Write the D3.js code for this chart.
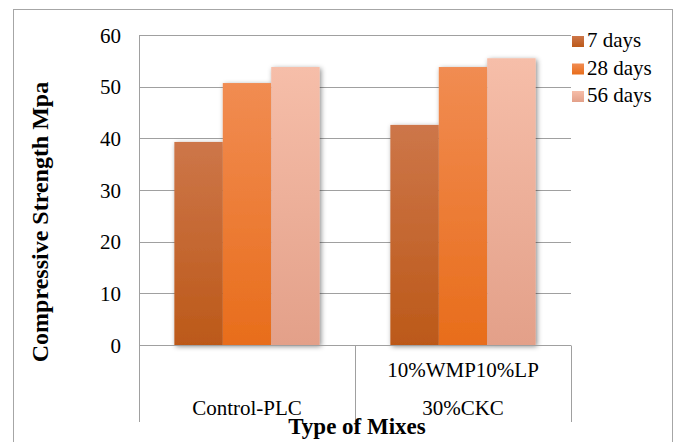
<!DOCTYPE html>
<html>
<head>
<meta charset="utf-8">
<script src="https://cdn.jsdelivr.net/npm/d3@7"></script>
</head>
<body style="margin:0;background:#fff">
<div id="chart"></div>
<script>
var categories = ["Control-PLC", "10%WMP10%LP|30%CKC"];
var series = ["7 days", "28 days", "56 days"];
var values7 = [39.3, 42.6];
var values28 = [50.7, 53.8];
var values56 = [53.8, 55.5];
var yTicks = [0, 10, 20, 30, 40, 50, 60];

var width = 676, height = 442;
var plot = {left: 139, right: 571, top: 35, bottom: 345};
var FONT = "'Liberation Serif'";

// colour stops per series: top, bottom
var colors = [["#cd7649", "#bc5919"], ["#f18c52", "#e86d1b"], ["#f6bea9", "#e3a089"]];

var svg = d3.select("#chart").append("svg")
  .attr("width", width)
  .attr("height", height);

var defs = svg.append("defs");
colors.forEach(function(c, i) {
  var grad = defs.append("linearGradient")
    .attr("id", "grad" + i)
    .attr("x1", 0).attr("y1", 0).attr("x2", 0).attr("y2", 1);
  grad.append("stop").attr("offset", "0%").attr("stop-color", c[0]);
  grad.append("stop").attr("offset", "100%").attr("stop-color", c[1]);
});
var filter = defs.append("filter")
  .attr("id", "shadow")
  .attr("x", "-20%").attr("y", "-20%")
  .attr("width", "140%").attr("height", "140%");
filter.append("feDropShadow")
  .attr("dx", 1.5).attr("dy", 1.5)
  .attr("stdDeviation", 2.5)
  .attr("flood-color", "#000")
  .attr("flood-opacity", 0.45);

// outer chart border
svg.append("rect")
  .attr("x", 13.5).attr("y", 9.5)
  .attr("width", 659).attr("height", 460)
  .attr("fill", "none")
  .attr("stroke", "#a6a6a6");

var x0 = d3.scaleBand()
  .domain(categories)
  .range([plot.left, plot.right])
  .paddingInner(0).paddingOuter(0);

var x1 = d3.scaleBand()
  .domain(series)
  .range([0, x0.bandwidth()])
  .paddingInner(0).paddingOuter(0.73);

var y = d3.scaleLinear()
  .domain([0, 60])
  .range([plot.bottom, plot.top]);

// gridlines
svg.append("g")
  .selectAll("line")
  .data(yTicks)
  .enter().append("line")
  .attr("x1", plot.left)
  .attr("x2", plot.right)
  .attr("y1", function(d) { return Math.round(y(d)) + 0.5; })
  .attr("y2", function(d) { return Math.round(y(d)) + 0.5; })
  .attr("stroke", "#a0a0a0");

// y axis labels
svg.append("g")
  .selectAll("text")
  .data(yTicks)
  .enter().append("text")
  .attr("x", 121)
  .attr("y", function(d) { return y(d); })
  .attr("dy", "0.36em")
  .attr("text-anchor", "end")
  .style("font-family", FONT)
  .style("font-size", "21px")
  .text(function(d) { return d; });

// bars
var table = categories.map(function(c, i) {
  return {cat: c, vals: [values7[i], values28[i], values56[i]]};
});

var groups = svg.append("g")
  .selectAll("g")
  .data(table)
  .enter().append("g")
  .attr("transform", function(d) { return "translate(" + x0(d.cat) + ",0)"; })
  .style("filter", "url(#shadow)");

groups.selectAll("rect")
  .data(function(d) { return d.vals.map(function(v, j) { return {s: series[j], v: v, j: j}; }); })
  .enter().append("rect")
  .attr("x", function(d) { return x1(d.s); })
  .attr("width", x1.bandwidth())
  .attr("y", function(d) { return y(d.v); })
  .attr("height", function(d) { return y(0) - y(d.v); })
  .attr("fill", function(d) { return "url(#grad" + d.j + ")"; });

// axis line + category dividers
var axisY = Math.round(y(0)) + 0.5;
svg.append("line")
  .attr("x1", plot.left).attr("x2", plot.right)
  .attr("y1", axisY).attr("y2", axisY)
  .attr("stroke", "#a0a0a0");
svg.append("line")
  .attr("x1", plot.left + 0.5).attr("x2", plot.left + 0.5)
  .attr("y1", plot.top).attr("y2", 422)
  .attr("stroke", "#a0a0a0");
svg.append("g")
  .selectAll("line")
  .data(categories)
  .enter().append("line")
  .attr("x1", function(d) { return Math.round(x0(d) + x0.bandwidth()) + 0.5; })
  .attr("x2", function(d) { return Math.round(x0(d) + x0.bandwidth()) + 0.5; })
  .attr("y1", axisY).attr("y2", 422)
  .attr("stroke", "#a0a0a0");

// category labels (bottom aligned lines)
svg.append("g")
  .selectAll("text")
  .data(categories)
  .enter().append("text")
  .attr("text-anchor", "middle")
  .style("font-family", FONT)
  .style("font-size", "21px")
  .each(function(d) {
    var lines = d.split("|");
    var t = d3.select(this);
    lines.forEach(function(l, k) {
      t.append("tspan")
        .attr("x", x0(d) + x0.bandwidth() / 2)
        .attr("y", 415 - (lines.length - 1 - k) * 38)
        .text(l);
    });
  });

// axis titles
svg.append("text")
  .attr("transform", "translate(48,222) rotate(-90)")
  .attr("text-anchor", "middle")
  .style("font-family", FONT)
  .style("font-size", "24px")
  .style("font-weight", "bold")
  .text("Compressive Strength Mpa");

svg.append("text")
  .attr("x", 357)
  .attr("y", 434)
  .attr("text-anchor", "middle")
  .style("font-family", FONT)
  .style("font-size", "23px")
  .style("font-weight", "bold")
  .text("Type of Mixes");

// legend
var legend = svg.append("g")
  .selectAll("g")
  .data(series)
  .enter().append("g")
  .attr("transform", function(d, i) { return "translate(572," + (36 + i * 27.5) + ")"; });
legend.append("rect")
  .attr("width", 12).attr("height", 11)
  .attr("fill", function(d, i) { return "url(#grad" + i + ")"; });
legend.append("text")
  .attr("x", 15)
  .attr("y", 11)
  .style("font-family", FONT)
  .style("font-size", "21px")
  .text(function(d) { return d; });
</script>
</body>
</html>
